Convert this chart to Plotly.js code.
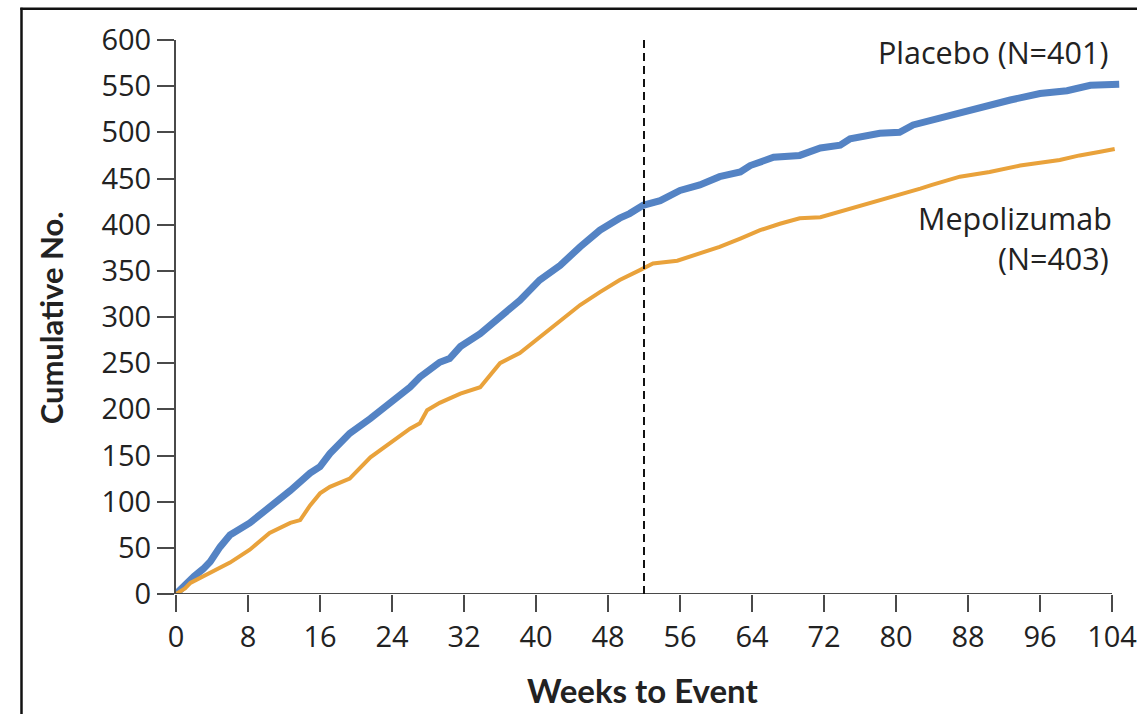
<!DOCTYPE html>
<html>
<head>
<meta charset="utf-8">
<script src="https://cdn.plot.ly/plotly-3.0.1.min.js"></script>
<style>html,body{margin:0;padding:0;background:#fff;}#chart{width:1137px;height:714px;}</style>
</head>
<body>
<div id="chart"></div>
<script>
// Data
var placeboWeeks = [0,1,2,3,3.8,4.9,6,8.2,10.4,12.7,14.9,16,17.1,19.3,21.6,23.8,26,27.1,29.3,30.4,31.6,33.8,36,38.2,40.4,42.7,44.9,47.1,49.3,50.4,51.9,53.8,56,58.2,60.4,62.7,63.8,66.4,69.3,71.6,73.8,74.9,78.2,80.4,81.9,83.8,84.9,89.3,92.7,96,99,101.6,104.8];
var placeboCum   = [0,10,19,27,35,51,64,77,93,112,131,138,152,174,190,207,224,235,251,255,268,282,300,318,340,356,376,394,407,412,421,426,437,443,452,457,464,473,475,483,486,493,499,500,508,513,516,526,535,542,545,551,552];

var mepoWeeks = [0,1,1.6,3.8,6,8.2,10.4,12.7,13.8,14.9,16,17.1,19.3,21.6,23.8,26,27.1,27.9,29.3,31.6,33.8,36,38.2,40.4,42.7,44.9,47.1,49.3,51.6,53,55.7,58.2,60.4,62.7,64.9,67.1,69.3,71.6,73.8,76,78.2,80.4,82.7,84,87.1,90.4,93.8,98.2,100.4,102.7,104.3];
var mepoCum   = [0,6,12,23,34,48,66,77,80,96,109,116,125,148,164,179,185,199,207,217,224,250,261,278,296,313,327,340,351,358,361,369,376,385,394,401,407,408,414,421,426,432,439,443,452,457,464,470,475,479,482];

var xTicks = [0,8,16,24,32,40,48,56,64,72,80,88,96,104];
var yTicks = [0,50,100,150,200,250,300,350,400,450,500,550,600];
var cutoffWeek = 52;

var labelPlacebo = "Placebo (N=401)";
var labelMepo1 = "Mepolizumab";
var labelMepo2 = "(N=403)";

var font = "'Open Sans', 'Noto Sans', sans-serif";
var boldFont = "Lato, 'Open Sans', sans-serif";
var axisCol = "#4a4a4a";

var traces = [
  {x: placeboWeeks, y: placeboCum, mode: "lines", line: {color: "#5483c4", width: 7, shape: "linear"}, hoverinfo: "x+y", name: "Placebo"},
  {x: mepoWeeks, y: mepoCum, mode: "lines", line: {color: "#e9a23b", width: 4, shape: "linear"}, hoverinfo: "x+y", name: "Mepolizumab"}
];

var layout = {
  width: 1137, height: 714,
  margin: {l: 176, r: 16, t: 40, b: 120},
  paper_bgcolor: "#fff", plot_bgcolor: "#fff",
  showlegend: false,
  font: {family: font, color: "#222", size: 29},
  xaxis: {
    range: [0, 105], tickvals: xTicks, ticktext: xTicks.map(String),
    showgrid: false, zeroline: false, showline: false,
    ticks: "outside", ticklen: 17, tickwidth: 2, tickcolor: axisCol,
    ticklabeloverflow: "allow",
    tickfont: {family: font, size: 29, color: "#222"}, fixedrange: true
  },
  yaxis: {
    range: [0, 600], tickvals: yTicks, ticktext: yTicks.map(String),
    showgrid: false, zeroline: false, showline: true, linecolor: axisCol, linewidth: 2,
    ticks: "outside", ticklen: 17, tickwidth: 2, tickcolor: axisCol,
    tickfont: {family: font, size: 29, color: "#222"}, fixedrange: true
  },
  shapes: [
    {type: "line", xref: "x", yref: "y", x0: 0, x1: 104, y0: 0, y1: 0, line: {color: axisCol, width: 2}},
    {type: "line", xref: "x", yref: "paper", x0: cutoffWeek, x1: cutoffWeek, y0: 0, y1: 1.004, line: {color: "#111", width: 2, dash: "8px,5px"}},
    {type: "line", xref: "paper", yref: "paper", x0: -0.1635, x1: -0.1635, y0: 1.058, y1: -0.25, line: {color: "#111", width: 2.5}},
    {type: "line", xref: "paper", yref: "paper", x0: -0.1648, x1: 1.03, y0: 1.0565, y1: 1.0565, line: {color: "#111", width: 2.5}}
  ],
  annotations: [
    {text: labelPlacebo, xref: "x", yref: "y", x: 103.8, y: 587, xanchor: "right", yanchor: "middle", showarrow: false, font: {family: font, size: 30.5, color: "#222"}},
    {text: labelMepo1, xref: "x", yref: "y", x: 104.2, y: 407, xanchor: "right", yanchor: "middle", showarrow: false, font: {family: font, size: 30.5, color: "#222"}},
    {text: labelMepo2, xref: "x", yref: "y", x: 103.9, y: 364, xanchor: "right", yanchor: "middle", showarrow: false, font: {family: font, size: 30.5, color: "#222"}},
    {text: "<b>Weeks to Event</b>", xref: "paper", yref: "paper", x: 0.494, y: -0.173, xanchor: "center", yanchor: "middle", showarrow: false, font: {family: boldFont, size: 33, color: "#222"}},
    {text: "<b>Cumulative No.</b>", xref: "paper", yref: "paper", x: -0.132, y: 0.498, xanchor: "center", yanchor: "middle", textangle: -90, showarrow: false, font: {family: boldFont, size: 31, color: "#222"}}
  ]
};

Plotly.newPlot("chart", traces, layout, {displayModeBar: false, staticPlot: true});
</script>
</body>
</html>
